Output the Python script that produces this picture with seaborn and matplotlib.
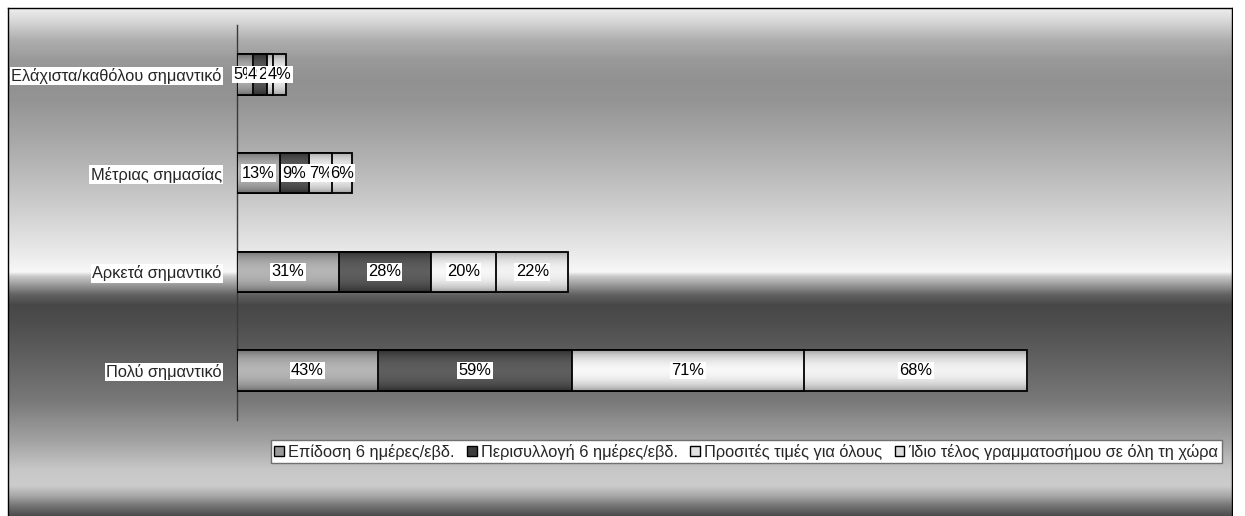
import numpy as np
import pandas as pd
import matplotlib
matplotlib.use("Agg")
import matplotlib.pyplot as plt
from matplotlib.patches import Rectangle
import seaborn as sns

# ---------------- data ----------------
categories = ["Ελάχιστα/καθόλου σημαντικό", "Μέτριας σημασίας",
              "Αρκετά σημαντικό", "Πολύ σημαντικό"]
series_names = ["Επίδοση 6 ημέρες/εβδ.", "Περισυλλογή 6 ημέρες/εβδ.",
                "Προσιτές τιμές για όλους", "Ίδιο τέλος γραμματοσήμου σε όλη τη χώρα"]
epidosi = [5, 13, 31, 43]
perisyllogi = [4, 9, 28, 59]
prositi = [2, 7, 20, 71]
idio_telos = [4, 6, 22, 68]
values = [epidosi, perisyllogi, prositi, idio_telos]

# ---------------- style ----------------
sns.set_style("white")
plt.rcParams["font.family"] = ["Liberation Sans", "DejaVu Sans"]
FS = 11.8
W, H = 1245, 516
# (edge grey, middle grey) for the cylinder-like gradient of each series
grad_cols = [(0.40, 0.71), (0.16, 0.37), (0.58, 0.97), (0.60, 0.95)]
legend_cols = ["#9a9a9a", "#3c3c3c", "#e2e2e2", "#dcdcdc"]

fig = plt.figure(figsize=(W / 100, H / 100), dpi=100)
fig.patch.set_facecolor("white")

# background chrome gradient (chart area)
bg = fig.add_axes([8 / W, 0, (1232 - 8) / W, (H - 8) / H])
rows = np.arange(8, H + 1)
stops_y = [8, 20, 40, 60, 80, 100, 150, 200, 250, 272, 276, 285, 295, 305, 320, 350, 400, 440, 470, 486, 496, 506, 516]
stops_v = [0.93, 0.85, 0.68, 0.60, 0.57, 0.58, 0.68, 0.79, 0.91, 0.97, 0.80, 0.60, 0.38, 0.28, 0.30, 0.36, 0.47, 0.63, 0.78, 0.80, 0.66, 0.46, 0.30]
prof = np.interp(rows, stops_y, stops_v)
bg.imshow(np.repeat(prof[:, None, None], 3, axis=2),
          aspect="auto", extent=[0, 1, 0, 1], interpolation="bilinear")
bg.set_xlim(0, 1); bg.set_ylim(0, 1)
bg.set_xticks([]); bg.set_yticks([])
for s in ["top", "left", "right"]:
    bg.spines[s].set_visible(True)
    bg.spines[s].set_color("black")
    bg.spines[s].set_linewidth(1.0)
bg.spines["bottom"].set_visible(False)

# main plot axes
ax = fig.add_axes([237 / W, (H - 420) / H, 984 / W, 395 / H])
ax.patch.set_alpha(0)

def gradient(edge, mid, n=64):
    t = np.linspace(0, 1, n)
    v = edge + (mid - edge) * np.sin(np.pi * t) ** 0.6
    return np.repeat(v[:, None, None], 3, axis=2)

cum = np.cumsum(np.array(values, dtype=float), axis=0)
nser = len(values)
for layer, k in enumerate(range(nser - 1, -1, -1)):
    df = pd.DataFrame({"cat": categories, "val": cum[k]})
    before = len(ax.patches)
    sns.barplot(data=df, x="val", y="cat", orient="h", order=categories,
                ax=ax, color="white", width=0.41, edgecolor="black",
                linewidth=1.3, saturation=1)
    new = ax.patches[before:]
    z = 2 + 2 * layer
    for p in new:
        x0, y0 = p.get_x(), p.get_y()
        w, h = p.get_width(), p.get_height()
        im = ax.imshow(gradient(*grad_cols[k]), extent=[x0, x0 + w, y0 + h, y0],
                       aspect="auto", zorder=z, interpolation="bilinear")
        im.set_clip_path(p)
        p.set_facecolor("none")
        p.set_zorder(z + 1)

ax.set_xlim(0, 300)
ax.set_ylim(3.5, -0.5)
ax.set_xlabel(""); ax.set_ylabel("")
ax.set_xticks([])
for s in ["top", "right", "bottom"]:
    ax.spines[s].set_visible(False)
ax.spines["left"].set_color("#3a3a3a")
ax.spines["left"].set_linewidth(1.0)
ax.tick_params(axis="y", length=0, pad=11, labelsize=FS)
for lbl in ax.get_yticklabels():
    lbl.set_bbox(dict(facecolor="white", edgecolor="none", pad=1))

# data labels
starts = np.vstack([np.zeros(len(categories)), cum[:-1]])
for k in range(nser):
    for i in range(len(categories)):
        xc = starts[k][i] + values[k][i] / 2
        ax.text(xc, i, f"{values[k][i]}%", ha="center", va="center",
                fontsize=FS, color="black", zorder=20 + k,
                bbox=dict(facecolor="white", edgecolor="none", pad=1))

# legend
handles = [Rectangle((0, 0), 1, 1, facecolor=c, edgecolor="black", linewidth=1.0)
           for c in legend_cols]
leg = ax.legend(handles, series_names, ncol=4, loc="lower left",
                bbox_to_anchor=(271 / W, (H - 463) / H),
                bbox_transform=fig.transFigure, borderaxespad=0,
                fontsize=FS, frameon=True, fancybox=False,
                handlelength=0.6, handleheight=0.6, handletextpad=0.25,
                columnspacing=0.75, borderpad=0.2)
leg.get_frame().set_edgecolor("#707070")
leg.get_frame().set_facecolor("white")
leg.get_frame().set_linewidth(1.0)
leg.get_frame().set_alpha(1)

# clip anything beyond the chart frame on the right
fig.patches.append(Rectangle((1232.5 / W, 0), 1, 1, transform=fig.transFigure,
                             facecolor="white", edgecolor="none", zorder=50))

fig.savefig("out.png", dpi=100)
